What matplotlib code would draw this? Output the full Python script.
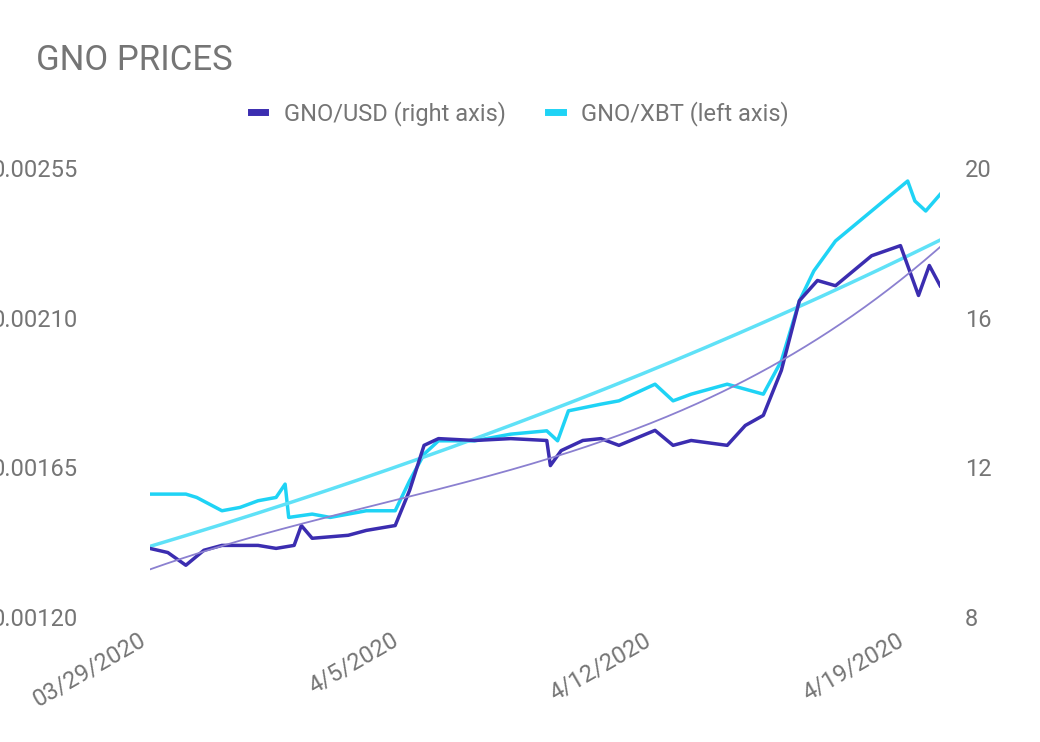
import numpy as np
import matplotlib.pyplot as plt
from matplotlib.lines import Line2D

plt.rcParams["font.family"] = "Roboto"

# days since 03/29/2020
xbt_days = [0, 1, 1.3, 2, 2.5, 3, 3.5, 3.75, 3.85, 4.5, 5, 6, 6.8, 7.2, 7.6, 8, 9, 10, 11, 11.3,
            11.6, 12.5, 13, 14, 14.5, 15, 16, 17, 17.5, 18, 18.4, 19, 20, 21, 21.2, 21.5, 21.9]
xbt_vals = [0.00157, 0.00157, 0.00156, 0.00152, 0.00153, 0.00155, 0.00156, 0.00160, 0.00150, 0.00151,
            0.00150, 0.00152, 0.00152, 0.00161, 0.00169, 0.00173, 0.00173, 0.00175, 0.00176, 0.00173,
            0.00182, 0.00184, 0.00185, 0.00190, 0.00185, 0.00187, 0.00190, 0.00187, 0.00197, 0.00215,
            0.00224, 0.00233, 0.00242, 0.00251, 0.00245, 0.00242, 0.00247]
usd_days = [0, 0.5, 1, 1.5, 2, 3, 3.5, 4, 4.2, 4.5, 5.5, 6, 6.8, 7.2, 7.6, 8, 9, 10, 11, 11.1, 11.4,
            12, 12.5, 13, 14, 14.5, 15, 16, 16.5, 17, 17.5, 18, 18.5, 19, 20, 20.8, 21.3, 21.6, 21.9]
usd_vals = [9.84, 9.73, 9.39, 9.79, 9.92, 9.92, 9.84, 9.92, 10.45, 10.11, 10.19, 10.32, 10.45, 11.39,
            12.59, 12.77, 12.72, 12.77, 12.72, 12.05, 12.45, 12.72, 12.77, 12.59, 12.99, 12.59, 12.72,
            12.59, 13.12, 13.39, 14.59, 16.45, 16.99, 16.85, 17.65, 17.92, 16.59, 17.39, 16.85]
tick_days = [0, 7, 14, 21]
tick_labels = ["03/29/2020", "4/5/2020", "4/12/2020", "4/19/2020"]

grey = "#757575"
c_usd, c_xbt = "#3b2db0", "#1fd3f5"

fig = plt.figure(figsize=(10.4, 7.42), dpi=100)
ax = fig.add_axes([0.144, 0.168, 0.76, 0.606])
ax2 = ax.twinx()

ax.plot(xbt_days, xbt_vals, color=c_xbt, lw=2.5)
ax2.plot(usd_days, usd_vals, color=c_usd, lw=2.5)

# trendlines
xs = np.linspace(0, 21.9, 200)
k, b = np.polyfit(xbt_days, np.log(xbt_vals), 1)
ax.plot(xs, np.exp(b + k * xs), color="#5fe1f7", lw=2.5)
ax2.plot(xs, np.polyval(np.polyfit(usd_days, usd_vals, 3), xs), color="#8b80d0", lw=1.3)

ax.set_xlim(0, 21.9)
ax.set_ylim(0.0012, 0.00255)
ax2.set_ylim(8, 20)
ax.set_yticks([0.0012, 0.00165, 0.0021, 0.00255])
ax.set_yticklabels(["0.00120", "0.00165", "0.00210", "0.00255"], ha="left")
ax2.set_yticks([8, 12, 16, 20])
ax.set_xticks(tick_days)
ax.set_xticklabels(tick_labels, rotation=30, ha="right")
for a in (ax, ax2):
    for s in a.spines.values():
        s.set_visible(False)
    a.tick_params(length=0, labelsize=17, labelcolor=grey, pad=8)
ax.tick_params(axis="y", pad=114)
ax2.tick_params(axis="y", pad=18)

fig.text(0.035, 0.906, "GNO PRICES", fontsize=25, color=grey)
handles = [Line2D([], [], color=c_usd, lw=5), Line2D([], [], color=c_xbt, lw=5)]
fig.legend(handles, ["GNO/USD (right axis)", "GNO/XBT (left axis)"], loc="center",
           bbox_to_anchor=(0.5, 0.847), ncol=2, frameon=False, fontsize=17, labelcolor=grey,
           handlelength=0.6, handletextpad=0.8, columnspacing=1.8)
fig.savefig("out.png")
